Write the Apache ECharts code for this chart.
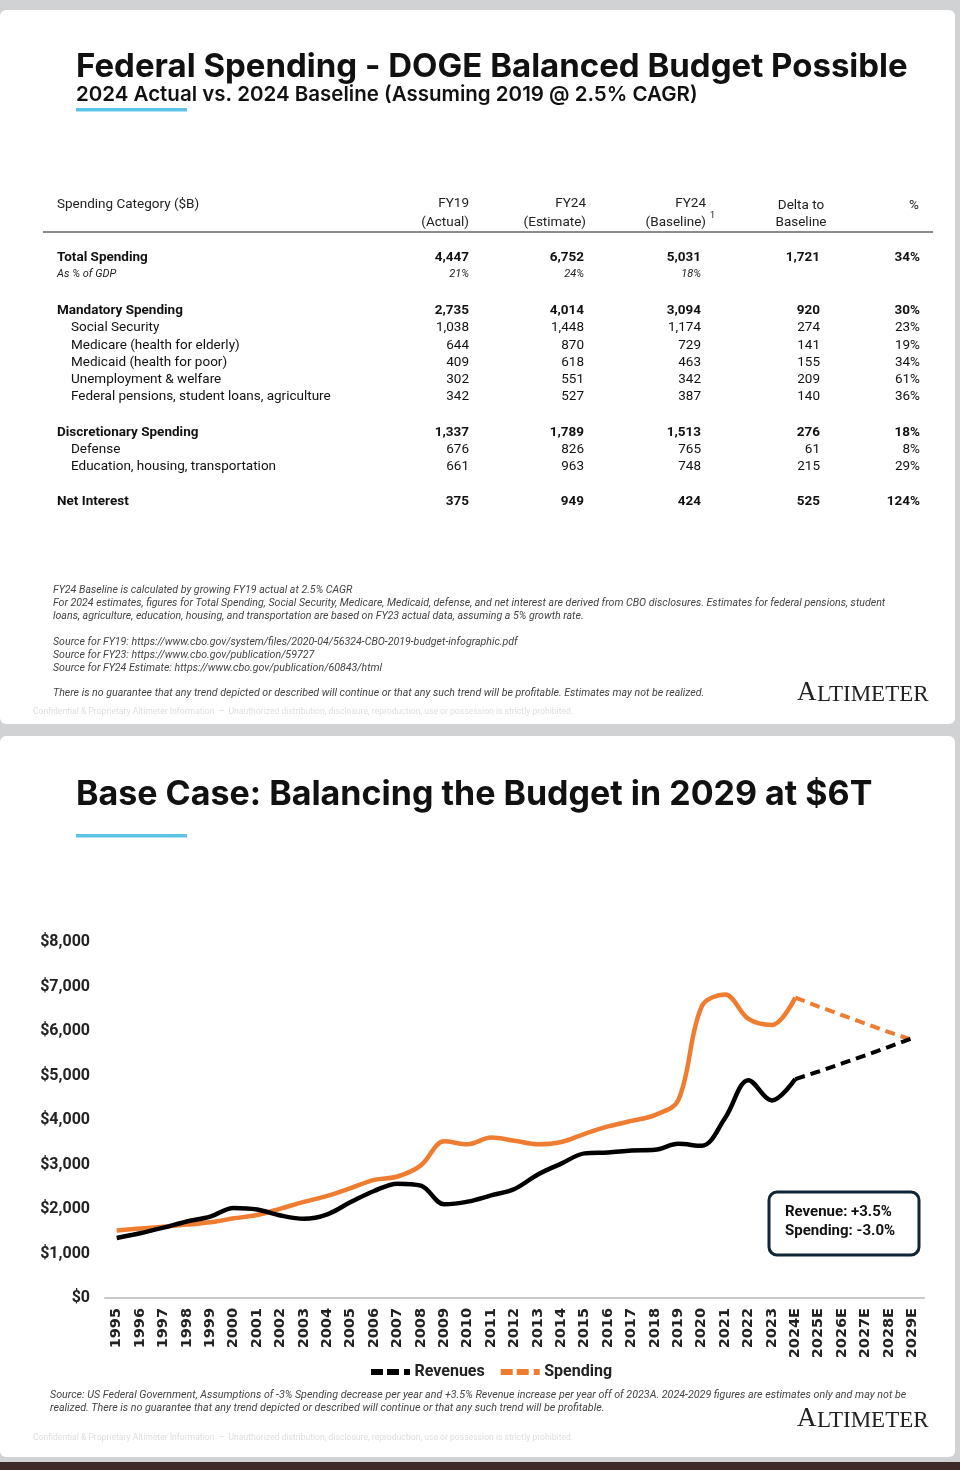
<!DOCTYPE html>
<html>
<head>
<meta charset="utf-8">
<script src="https://cdn.jsdelivr.net/npm/echarts@6/dist/echarts.min.js"></script>
<style>
html,body{margin:0;padding:0;background:#d0d2d4;}
#page{width:960px;height:1470px;}
</style>
</head>
<body>
<div id="page"></div>
<script>
// ---------- Table data ($B) ----------
const rowLabels = ['Total Spending','Mandatory Spending','Social Security','Medicare (health for elderly)','Medicaid (health for poor)','Unemployment & welfare','Federal pensions, student loans, agriculture','Discretionary Spending','Defense','Education, housing, transportation','Net Interest'];
const fy19Actual   = [4447,2735,1038,644,409,302,342,1337,676,661,375];
const fy24Estimate = [6752,4014,1448,870,618,551,527,1789,826,963,949];
const fy24Baseline = [5031,3094,1174,729,463,342,387,1513,765,748,424];
const deltaToBaseline = [1721,920,274,141,155,209,140,276,61,215,525];
const pctOfBaseline = [34,30,23,19,34,61,36,18,8,29,124];
const gdpShare = [21,24,18];   // FY19, FY24 est, FY24 baseline (% of GDP)

// ---------- Chart data ($B) ----------
const years = ['1995','1996','1997','1998','1999','2000','2001','2002','2003','2004','2005','2006','2007','2008','2009','2010','2011','2012','2013','2014','2015','2016','2017','2018','2019','2020','2021','2022','2023','2024E','2025E','2026E','2027E','2028E','2029E'];
const revenues = [1350,1455,1580,1720,1830,2025,1990,1855,1780,1880,2155,2405,2570,2525,2105,2165,2305,2450,2775,3020,3250,3270,3315,3330,3465,3420,4045,4895,4440,4920,5090,5270,5455,5645,5840];
const spending = [1515,1560,1600,1650,1700,1790,1865,2010,2160,2295,2470,2655,2730,2980,3520,3455,3605,3535,3455,3505,3690,3855,3980,4110,4445,6550,6820,6270,6135,6750,6550,6355,6165,5975,5800];
const yTicks = [0,1000,2000,3000,4000,5000,6000,7000,8000];

// ---------- layout (not data) ----------
const rowY = [258,311,328,346,363,380,397,433,450,467,502];
const rowBold = [true,true,false,false,false,false,false,true,false,false,true];
const colRight = [469,584,701,820,920];

const split = years.indexOf('2024E');
const solid = arr => arr.map((v,i)=> i<=split ? v : null);
const dashed = arr => arr.map((v,i)=> i>=split ? v : null);
const fmt = v => v.toLocaleString('en-US');

const TF = 'Roboto, "Liberation Sans", sans-serif';
const HF = 'Inter, "Open Sans", sans-serif';
const g = [];
function txt(x,y,text,font,fill,align,extra){
  g.push(Object.assign({type:'text', x:x, y:y, silent:true, z:10,
    style:{text:text, font:font, fill:fill||'#111', align:align||'left', verticalAlign:'middle',
      textAlign:align||'left', textVerticalAlign:'middle'}}, extra||{}));
}
// cards
g.push({type:'rect', shape:{x:0,y:10,width:955,height:714,r:6}, style:{fill:'#ffffff'}, silent:true, z:0});
g.push({type:'rect', shape:{x:0,y:736,width:955,height:721,r:6}, style:{fill:'#ffffff'}, silent:true, z:0});
g.push({type:'rect', shape:{x:0,y:1462,width:960,height:8}, style:{fill:'#3e2a28'}, silent:true, z:0});

// titles
txt(76,67,'Federal Spending - DOGE Balanced Budget Possible','bold 33px '+HF,'#111');
txt(76,95,'2024 Actual vs. 2024 Baseline (Assuming 2019 @ 2.5% CAGR)','600 20.5px '+HF,'#111');
g.push({type:'rect', shape:{x:76,y:108,width:111,height:3.5}, style:{fill:'#5cc3e8'}, silent:true, z:5});
txt(76,795,'Base Case: Balancing the Budget in 2029 at $6T','bold 34px '+HF,'#111');
g.push({type:'rect', shape:{x:76,y:834,width:111,height:3.5}, style:{fill:'#5cc3e8'}, silent:true, z:5});

// table header
const hf = '13.5px '+TF;
txt(57,205,'Spending Category ($B)',hf,'#222');
txt(469,204,'FY19',hf,'#222','right'); txt(469,223,'(Actual)',hf,'#222','right');
txt(586,204,'FY24',hf,'#222','right'); txt(586,223,'(Estimate)',hf,'#222','right');
txt(706,204,'FY24',hf,'#222','right'); txt(706,223,'(Baseline)',hf,'#222','right');
txt(710,216,'1','9px '+TF,'#222');
txt(801,206,'Delta to',hf,'#222','center'); txt(801,223,'Baseline',hf,'#222','center');
txt(919,206,'%',hf,'#222','right');
g.push({type:'line', shape:{x1:43,y1:232,x2:933,y2:232}, style:{stroke:'#8c8c8c', lineWidth:2}, silent:true, z:5});

// table rows
rowLabels.forEach((lab,i)=>{
  const f = (rowBold[i]?'bold ':'')+'13.5px '+TF;
  txt(rowBold[i]?57:71, rowY[i], lab, f, '#111');
  const vals = [fmt(fy19Actual[i]), fmt(fy24Estimate[i]), fmt(fy24Baseline[i]), fmt(deltaToBaseline[i]), pctOfBaseline[i]+'%'];
  vals.forEach((v,c)=> txt(colRight[c], rowY[i], v, f, '#111', 'right'));
});
txt(57,274,'As % of GDP','italic 11px '+TF,'#222');
gdpShare.forEach((v,c)=> txt(colRight[c],274,v+'%','italic 11px '+TF,'#222','right'));

// footnotes
const fn = 'italic 10.6px '+TF, fc = '#444';
txt(53,590,'FY24 Baseline is calculated by growing FY19 actual at 2.5% CAGR',fn,fc);
txt(53,603,'For 2024 estimates, figures for Total Spending, Social Security, Medicare, Medicaid, defense, and net interest are derived from CBO disclosures. Estimates for federal pensions, student',fn,fc);
txt(53,616,'loans, agriculture, education, housing, and transportation are based on FY23 actual data, assuming a 5% growth rate.',fn,fc);
txt(53,642,'Source for FY19: https://www.cbo.gov/system/files/2020-04/56324-CBO-2019-budget-infographic.pdf',fn,fc);
txt(53,655,'Source for FY23: https://www.cbo.gov/publication/59727',fn,fc);
txt(53,668,'Source for FY24 Estimate: https://www.cbo.gov/publication/60843/html',fn,fc);
txt(53,693,'There is no guarantee that any trend depicted or described will continue or that any such trend will be profitable. Estimates may not be realized.',fn,fc);
const conf = 'Confidential & Proprietary Altimeter Information  –  Unauthorized distribution, disclosure, reproduction, use or possession is strictly prohibited.';
txt(33,712,conf,'8.6px '+TF,'#dedede');
function logo(x,yb){
  g.push({type:'text', x:x, y:yb, silent:true, z:10, style:{text:'A', font:'27px "Liberation Serif", serif', fill:'#222', align:'left', verticalAlign:'bottom', textAlign:'left', textVerticalAlign:'bottom'}});
  g.push({type:'text', x:x+20, y:yb, silent:true, z:10, style:{text:'LTIMETER', font:'23px "Liberation Serif", serif', fill:'#222', align:'left', verticalAlign:'bottom', textAlign:'left', textVerticalAlign:'bottom'}});
}
logo(797,706);

// bottom notes
const bn = 'italic 10.7px '+TF;
txt(50,1395,'Source: US Federal Government, Assumptions of -3% Spending decrease per year and +3.5% Revenue increase per year off of 2023A. 2024-2029 figures are estimates only and may not be',bn,fc);
txt(50,1408,'realized. There is no guarantee that any trend depicted or described will continue or that any such trend will be profitable.',bn,fc);
logo(797,1432);
txt(33,1438,conf,'8.6px '+TF,'#dedede');

// annotation box
g.push({type:'rect', shape:{x:769,y:1192,width:150,height:63,r:8}, style:{fill:'#fff', stroke:'#0f2636', lineWidth:3}, silent:true, z:10});
txt(785,1212,'Revenue: +3.5%','bold 15px '+TF,'#111');
txt(785,1231,'Spending: -3.0%','bold 15px '+TF,'#111');

const chart = echarts.init(document.getElementById('page'), null, {width:960, height:1470, renderer:'canvas'});
const BLACK = '#000000', ORANGE = '#ef7d31';
chart.setOption({
  animation:false,
  backgroundColor:'#d0d2d4',
  graphic:{elements:g},
  grid:{left:105, right:36, top:942, bottom:172, containLabel:false},
  legend:{
    data:[{name:'Revenues', itemStyle:{color:BLACK, borderWidth:0}}, {name:'Spending', itemStyle:{color:ORANGE, borderWidth:0}}],
    left:366, top:1359, itemGap:16, itemWidth:44, itemHeight:6,
    icon:'path://M0,0h12v6h-12z M16,0h12v6h-12z M33,0h6v6h-6z',
    textStyle:{fontFamily:TF, fontWeight:'bold', fontSize:16, color:'#222', padding:[0,0,0,-3]}
  },
  xAxis:{
    type:'category', data:years, boundaryGap:true,
    axisLine:{lineStyle:{color:'#c8c8c8', width:2}},
    axisTick:{show:false},
    axisLabel:{rotate:90, interval:0, fontFamily:'"DejaVu Sans", sans-serif', fontWeight:'bold', fontSize:14.5, color:'#222', margin:10}
  },
  yAxis:{
    type:'value', min:yTicks[0], max:yTicks[yTicks.length-1], interval:1000,
    splitLine:{show:false}, axisLine:{show:false}, axisTick:{show:false},
    axisLabel:{formatter:v=>'$'+fmt(v), fontFamily:TF, fontWeight:'bold', fontSize:16, color:'#222', margin:15}
  },
  series:[
    {name:'Revenues (actual)', type:'line', data:solid(revenues), smooth:0.35, symbol:'none', connectNulls:false,
     lineStyle:{color:BLACK, width:4.5}, itemStyle:{color:BLACK}, z:3},
    {name:'Revenues', type:'line', data:dashed(revenues), smooth:false, symbol:'none',
     lineStyle:{color:BLACK, width:4, type:[10,6]}, itemStyle:{color:BLACK}, z:3},
    {name:'Spending (actual)', type:'line', data:solid(spending), smooth:0.35, symbol:'none',
     lineStyle:{color:ORANGE, width:4.5}, itemStyle:{color:ORANGE}, z:2},
    {name:'Spending', type:'line', data:dashed(spending), smooth:false, symbol:'none',
     lineStyle:{color:ORANGE, width:4, type:[10,6]}, itemStyle:{color:ORANGE}, z:2}
  ]
});
</script>
</body>
</html>
